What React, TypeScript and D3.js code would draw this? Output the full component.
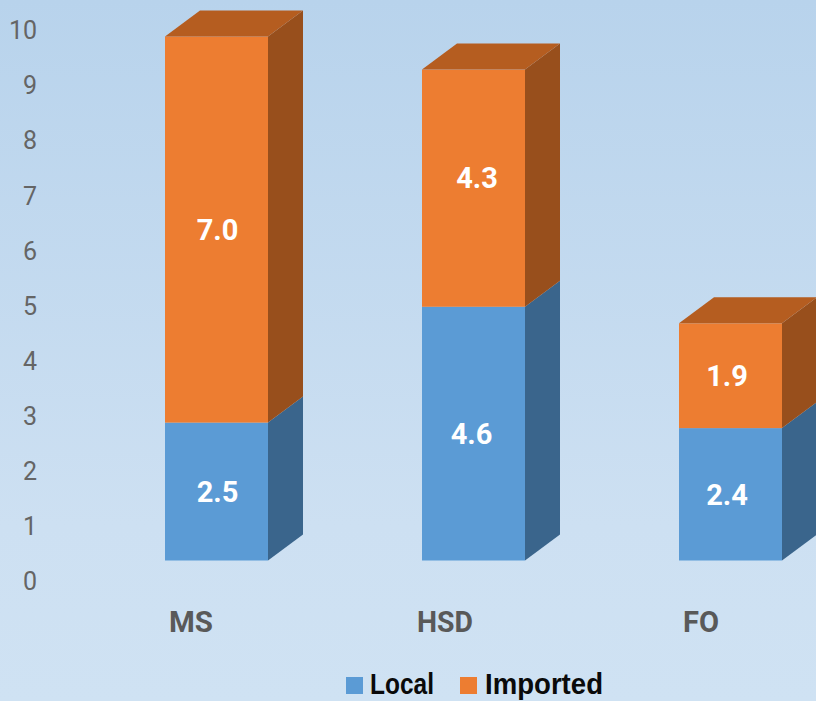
import React from "react";
import * as d3 from "d3";

const categories = ["MS", "HSD", "FO"];
const localValues = [2.5, 4.6, 2.4];
const importedValues = [7.0, 4.3, 1.9];
const seriesNames = ["Local", "Imported"];
const yTicks = [0, 1, 2, 3, 4, 5, 6, 7, 8, 9, 10];

const WIDTH = 816;
const HEIGHT = 701;
const DEPTH_X = 35;
const DEPTH_Y = -26;

const frontColors = ["#5B9BD5", "#ED7D31"];
const sideColors = ["#3A658C", "#984F1C"];
const topColor = "#B55D20";

const y = d3.scaleLinear().domain([0, 9.5]).range([560.5, 36.5]);
const tickY = d3.scaleLinear().domain([0, 10]).range([581.5, 30.5]);
const x = d3.scalePoint<string>().domain(categories).range([165, 679]);
const barWidth = 103;

// Hand-placed label offsets, per series then per category
const labelNudgeX = [
  [0, -3, -4.5],
  [0, 2.5, -4.5],
];
const labelNudgeY = [
  [0, 0, 0],
  [0, -11, 0],
];
// Layout of the category captions and legend entries
const captionCentres = [191, 445, 701];
const captionWidths = [44, 56, 36];
const legendX = [346, 460];
const legendTextX = [370, 485];
const legendTextWidths = [64, 118];

const rows = categories.map((c, i) => ({ c, Local: localValues[i], Imported: importedValues[i] }));
const stacked = d3.stack<any>().keys(seriesNames)(rows);

const poly = (pts: [number, number][]) => pts.map((p) => p.join(",")).join(" ");

export default function App() {
  return (
    <svg
      width={WIDTH}
      height={HEIGHT}
      viewBox={`0 0 ${WIDTH} ${HEIGHT}`}
      style={{ position: "absolute", left: 0, top: 0, display: "block" }}
    >
      <defs>
        <linearGradient id="backdrop" x1="0" y1="0" x2="0" y2="1">
          <stop offset="0" stopColor="#B8D3EC" />
          <stop offset="0.75" stopColor="#CDE0F2" />
          <stop offset="1" stopColor="#CFE2F3" />
        </linearGradient>
      </defs>
      <rect width={WIDTH} height={HEIGHT} fill="url(#backdrop)" />

      {yTicks.map((t) => (
        <text
          key={t}
          x={37}
          y={tickY(t)}
          dy="0.35em"
          textAnchor="end"
          fontFamily="Roboto, sans-serif"
          fontWeight={400}
          fontSize={25}
          fill="#656565"
        >
          {t}
        </text>
      ))}

      {stacked.map((layer, si) =>
        layer.map((d, i) => {
          const x0 = x(categories[i])!;
          const x1 = x0 + barWidth;
          const yb = y(d[0]);
          const yt = y(d[1]);
          const isTop = si === stacked.length - 1;
          const value = d[1] - d[0];
          return (
            <g key={`${si}-${i}`}>
              <polygon
                points={poly([
                  [x1, yb],
                  [x1 + DEPTH_X, yb + DEPTH_Y],
                  [x1 + DEPTH_X, yt + DEPTH_Y],
                  [x1, yt],
                ])}
                fill={sideColors[si]}
              />
              <rect x={x0} y={yt} width={barWidth} height={yb - yt} fill={frontColors[si]} />
              {isTop && (
                <polygon
                  points={poly([
                    [x0, yt],
                    [x0 + DEPTH_X, yt + DEPTH_Y],
                    [x1 + DEPTH_X, yt + DEPTH_Y],
                    [x1, yt],
                  ])}
                  fill={topColor}
                />
              )}
              <text
                x={x0 + barWidth / 2 + 1 + labelNudgeX[si][i]}
                y={(yb + yt) / 2 + labelNudgeY[si][i]}
                dy="0.36em"
                textAnchor="middle"
                fontFamily="Roboto, sans-serif"
                fontWeight={700}
                fontSize={29}
                fill="#FFFFFF"
              >
                {value.toFixed(1)}
              </text>
            </g>
          );
        })
      )}

      {categories.map((c, i) => (
        <text
          key={c}
          x={captionCentres[i] - captionWidths[i] / 2}
          y={621}
          dy="0.36em"
          textLength={captionWidths[i]}
          lengthAdjust="spacingAndGlyphs"
          fontFamily="Roboto, sans-serif"
          fontWeight={700}
          fontSize={30}
          fill="#595959"
        >
          {c}
        </text>
      ))}

      {seriesNames.map((name, i) => (
        <g key={name}>
          <rect x={legendX[i]} y={677} width={17} height={17} fill={frontColors[i]} />
          <text
            x={legendTextX[i]}
            y={694}
            textLength={legendTextWidths[i]}
            lengthAdjust="spacingAndGlyphs"
            fontFamily="'Liberation Sans', Arial, sans-serif"
            fontWeight={700}
            fontSize={30}
            fill="#0A0A0A"
          >
            {name}
          </text>
        </g>
      ))}
    </svg>
  );
}
